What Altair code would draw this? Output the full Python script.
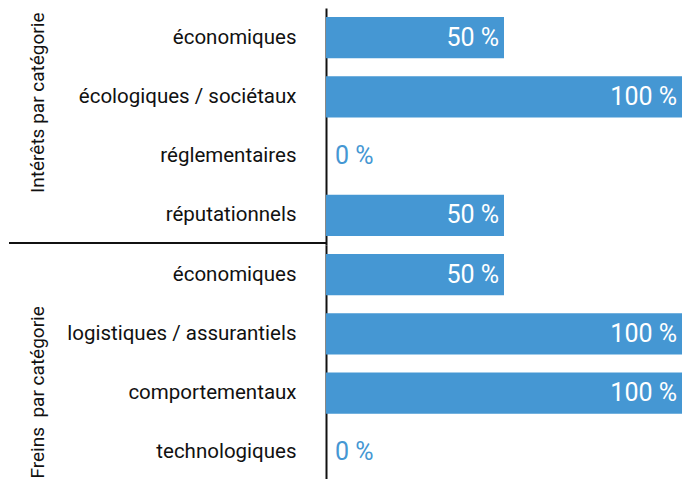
import altair as alt
import pandas as pd

interets_cats = ["économiques", "écologiques / sociétaux", "réglementaires", "réputationnels"]
interets_vals = [50, 100, 0, 50]
freins_cats = ["économiques", "logistiques / assurantiels", "comportementaux", "technologiques"]
freins_vals = [50, 100, 100, 0]
group_titles = ["Intérêts par catégorie", "Freins\u00a0 par catégorie"]

BLUE = "#4597d3"
FONT = "Roboto"
W, H = 356, 237


def panel(cats, vals, title, top_panel):
    df = pd.DataFrame({"cat": cats, "val": vals})
    df["lab"] = df["val"].astype(str) + " %"
    base = alt.Chart(df)
    y = alt.Y(
        "cat:N",
        sort=cats,
        title=title,
        scale=alt.Scale(paddingInner=0.3, paddingOuter=0.15),
        axis=alt.Axis(
            ticks=False,
            labelPadding=30,
            labelFont=FONT,
            labelFontSize=20.5,
            labelColor="#111",
            labelLimit=400,
            domainColor="#111",
            domainWidth=2,
            titleFont=FONT,
            titleFontSize=19,
            titleFontWeight="normal",
            titleColor="#111",
            titleAngle=270,
            titleX=-279,
            titleY=4 if top_panel else H - 4,
            titleAlign="right" if top_panel else "left",
            titleBaseline="bottom",
        ),
    )
    x = alt.X("val:Q", scale=alt.Scale(domain=[0, 100], nice=False), axis=None)
    bars = base.mark_bar(color=BLUE).encode(x=x, y=y)
    inside = base.transform_filter("datum.val > 0").mark_text(
        align="right", dx=-5, color="white", font=FONT, fontSize=25
    ).encode(x=x, y=alt.Y("cat:N", sort=cats), text="lab:N")
    outside = base.transform_filter("datum.val == 0").mark_text(
        align="left", dx=9, color=BLUE, font=FONT, fontSize=25
    ).encode(x=x, y=alt.Y("cat:N", sort=cats), text="lab:N")
    layers = [bars, inside, outside]
    if top_panel:
        rule = alt.Chart(alt.Data(values=[{"s": 1}])).mark_rule(
            color="#111", strokeWidth=2
        ).encode(x=alt.value(-317), x2=alt.value(0), y=alt.value(H - 2))
        layers.append(rule)
    return alt.layer(*layers).properties(width=W, height=H)


top = panel(interets_cats, interets_vals, group_titles[0], True)
bottom = panel(freins_cats, freins_vals, group_titles[1], False)

chart = alt.vconcat(top, bottom, spacing=0).configure_view(stroke=None).properties(
    padding={"left": 0, "right": 0, "top": 0, "bottom": 0}
)
chart.save("out.html", embed_options={"renderer": "svg", "actions": False})
